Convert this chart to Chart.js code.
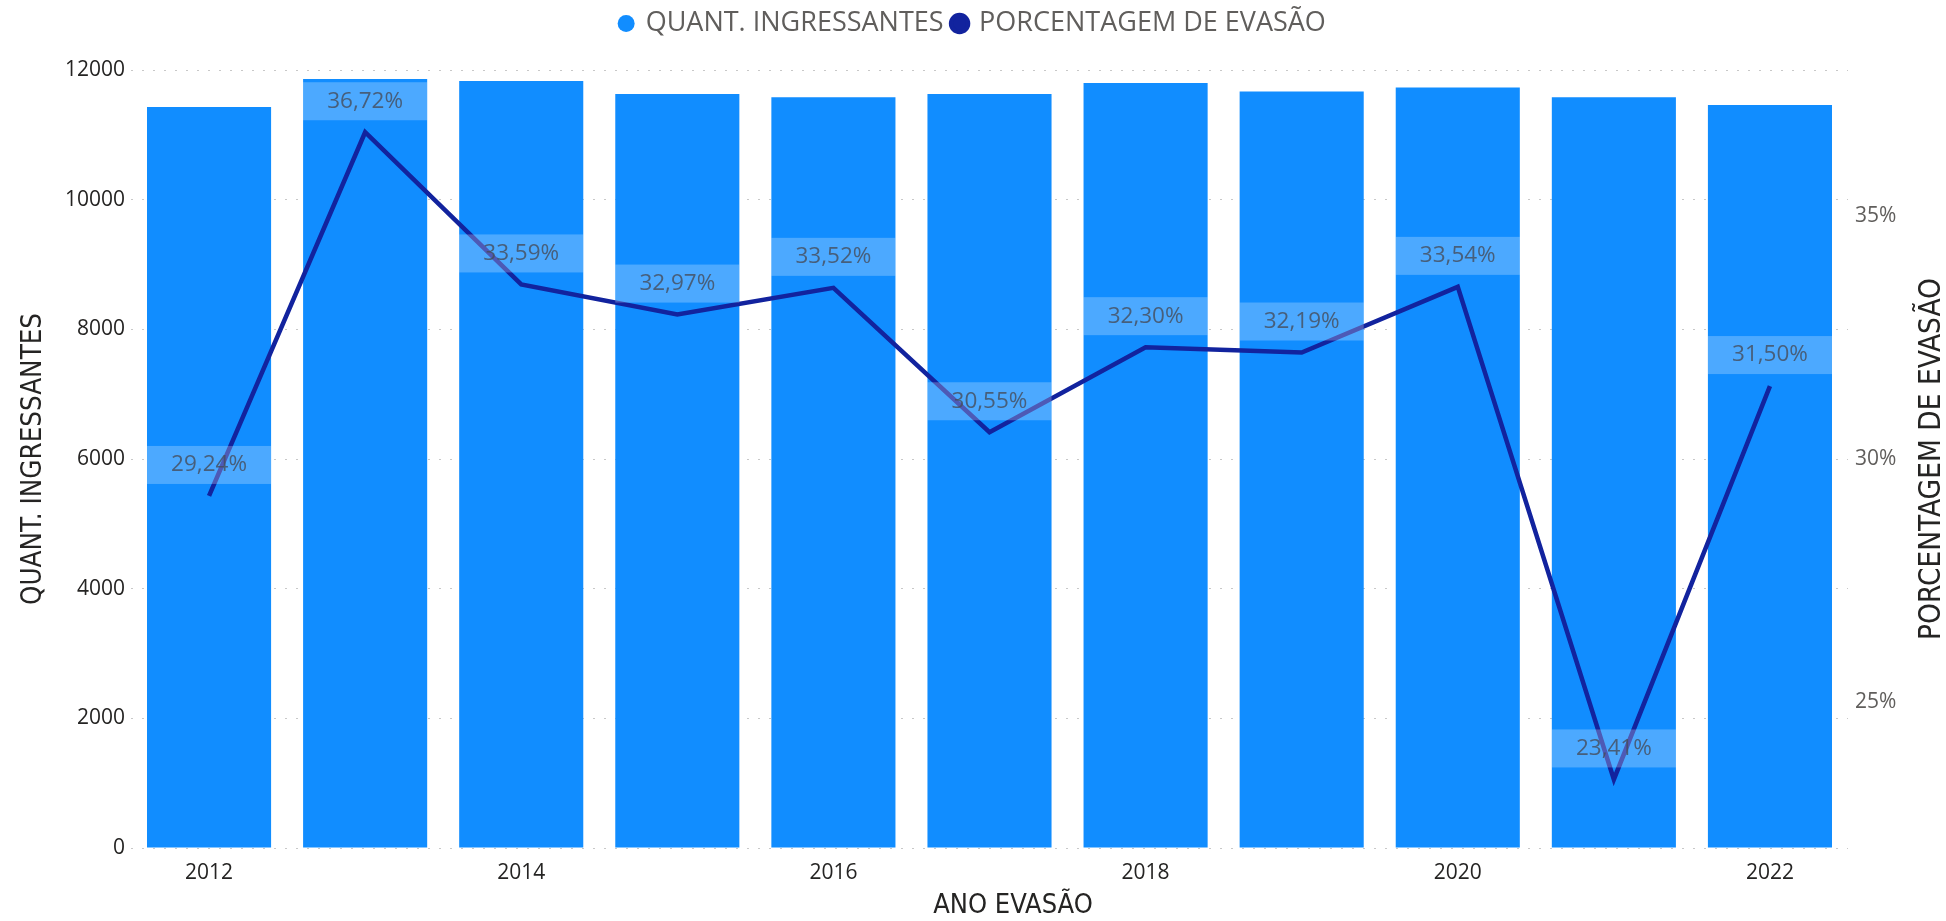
<!DOCTYPE html>
<html lang="pt-BR">
<head>
<meta charset="utf-8">
<title>Ingressantes x Evasão</title>
<script src="https://cdn.jsdelivr.net/npm/chart.js@4.4.1/dist/chart.umd.min.js"></script>
<style>
    html, body { margin: 0; padding: 0; background: #ffffff; }
    .chart-container { position: relative; width: 1946px; height: 921px; }
</style>
</head>
<body>
<div class="chart-container">
    <canvas id="chart"></canvas>
</div>
<script>
    // Data
    const anos = ["2012", "2013", "2014", "2015", "2016", "2017", "2018", "2019", "2020", "2021", "2022"];
    const ingressantes = [11430, 11860, 11830, 11630, 11580, 11630, 11800, 11670, 11730, 11580, 11460];
    const evasao = [29.24, 36.72, 33.59, 32.97, 33.52, 30.55, 32.30, 32.19, 33.54, 23.41, 31.50];
    const evasaoTicks = [25, 30, 35];

    const BAR_COLOR = "#118DFF";
    const LINE_COLOR = "#12239E";
    const TICK_FONT = "'Segoe UI', 'Open Sans', sans-serif";
    const TITLE_FONT = "'Liberation Sans Narrow', 'DejaVu Sans Condensed', sans-serif";

    const fmtPct = (v) => v.toFixed(2).replace(".", ",") + "%";

    // Extra room under the legend so the plot starts where the reference does
    const legendSpacing = {
        id: "legendSpacing",
        beforeInit(chart) {
            const origFit = chart.legend.fit;
            chart.legend.fit = function () {
                origFit.bind(chart.legend)();
                this.height += 23;
            };
        },
    };

    // Labels for the line points: translucent box the width of the bar, above the point
    const pointLabels = {
        id: "pointLabels",
        afterDatasetsDraw(chart) {
            const ctx = chart.ctx;
            const barMeta = chart.getDatasetMeta(0);
            const lineMeta = chart.getDatasetMeta(1);
            ctx.save();
            lineMeta.data.forEach((pt, i) => {
                const w = barMeta.data[i].width;
                const cy = pt.y - 31;
                ctx.fillStyle = "rgba(255, 255, 255, 0.25)";
                ctx.fillRect(pt.x - w / 2, cy - 19, w, 38);
                ctx.fillStyle = "rgba(70, 76, 90, 0.8)";
                ctx.font = `22.5px ${TICK_FONT}`;
                ctx.textAlign = "center";
                ctx.textBaseline = "middle";
                ctx.fillText(fmtPct(evasao[i]), pt.x, cy);
            });
            ctx.restore();
        },
    };

    // Right title reads bottom-to-top like the left one; x title sits a bit right of centre
    const axisTitles = {
        id: "axisTitles",
        afterDraw(chart) {
            const ctx = chart.ctx;
            const s = chart.scales.y1;
            ctx.save();
            ctx.fillStyle = "#252423";
            ctx.textAlign = "center";
            ctx.textBaseline = "middle";
            ctx.font = `27px ${TITLE_FONT}`;
            ctx.fillText("ANO EVASÃO", 1013, 906);
            ctx.translate(1932, (s.top + s.bottom) / 2);
            ctx.rotate(-Math.PI / 2);
            ctx.font = `29.5px ${TITLE_FONT}`;
            ctx.fillText("PORCENTAGEM DE EVASÃO", 0, 0);
            ctx.restore();
        },
    };

    new Chart(document.getElementById("chart"), {
        type: "bar",
        data: {
            labels: anos,
            datasets: [
                {
                    type: "bar",
                    label: "QUANT. INGRESSANTES",
                    data: ingressantes,
                    backgroundColor: BAR_COLOR,
                    yAxisID: "y",
                    categoryPercentage: 1,
                    barPercentage: 0.795,
                    order: 2,
                },
                {
                    type: "line",
                    label: "PORCENTAGEM DE EVASÃO",
                    data: evasao,
                    borderColor: LINE_COLOR,
                    backgroundColor: LINE_COLOR,
                    borderWidth: 4.5,
                    pointRadius: 0,
                    tension: 0,
                    yAxisID: "y1",
                    order: 1,
                },
            ],
        },
        options: {
            responsive: true,
            maintainAspectRatio: false,
            animation: false,
            layout: { padding: { top: 0 } },
            plugins: {
                legend: {
                    display: true,
                    position: "top",
                    labels: {
                        usePointStyle: true,
                        pointStyle: "circle",
                        boxWidth: 12,
                        boxHeight: 12,
                        padding: 10,
                        color: "#605E5C",
                        font: { family: TICK_FONT, size: 27 },
                        sort: (a, b) => a.datasetIndex - b.datasetIndex,
                    },
                },
                tooltip: { enabled: false },
            },
            scales: {
                x: {
                    grid: { display: false, drawTicks: false },
                    border: { display: false },
                    ticks: {
                        color: "#252423",
                        padding: 12,
                        maxRotation: 0,
                        autoSkip: false,
                        font: { family: TICK_FONT, size: 21 },
                        callback: function (value, index) {
                            return index % 2 === 0 ? this.getLabelForValue(value) : "";
                        },
                    },
                    afterFit: (scale) => { scale.height = 73; },
                },
                y: {
                    position: "left",
                    min: 0,
                    max: 12000,
                    grid: {
                        color: "#C8C8C8",
                        lineWidth: 1,
                        drawTicks: false,
                    },
                    border: { display: false, dash: [2, 9] },
                    ticks: {
                        stepSize: 2000,
                        padding: 6,
                        color: "#252423",
                        font: { family: TICK_FONT, size: 21 },
                        callback: (value) => String(value),
                    },
                    title: {
                        display: true,
                        text: "QUANT. INGRESSANTES",
                        color: "#252423",
                        font: { family: TITLE_FONT, size: 27.5, lineHeight: 1 },
                        padding: { top: 20, bottom: 0 },
                    },
                    afterFit: (scale) => { scale.width = 131; },
                },
                y1: {
                    position: "right",
                    min: 22,
                    max: 38,
                    grid: { display: false, drawTicks: false },
                    border: { display: false },
                    afterBuildTicks: (scale) => {
                        scale.ticks = evasaoTicks.map((v) => ({ value: v }));
                    },
                    ticks: {
                        padding: 7,
                        color: "#605E5C",
                        font: { family: TICK_FONT, size: 21 },
                        callback: (value) => `${value}%`,
                    },
                    afterFit: (scale) => { scale.width = 98; },
                },
            },
        },
        plugins: [legendSpacing, pointLabels, axisTitles],
    });
</script>
</body>
</html>
